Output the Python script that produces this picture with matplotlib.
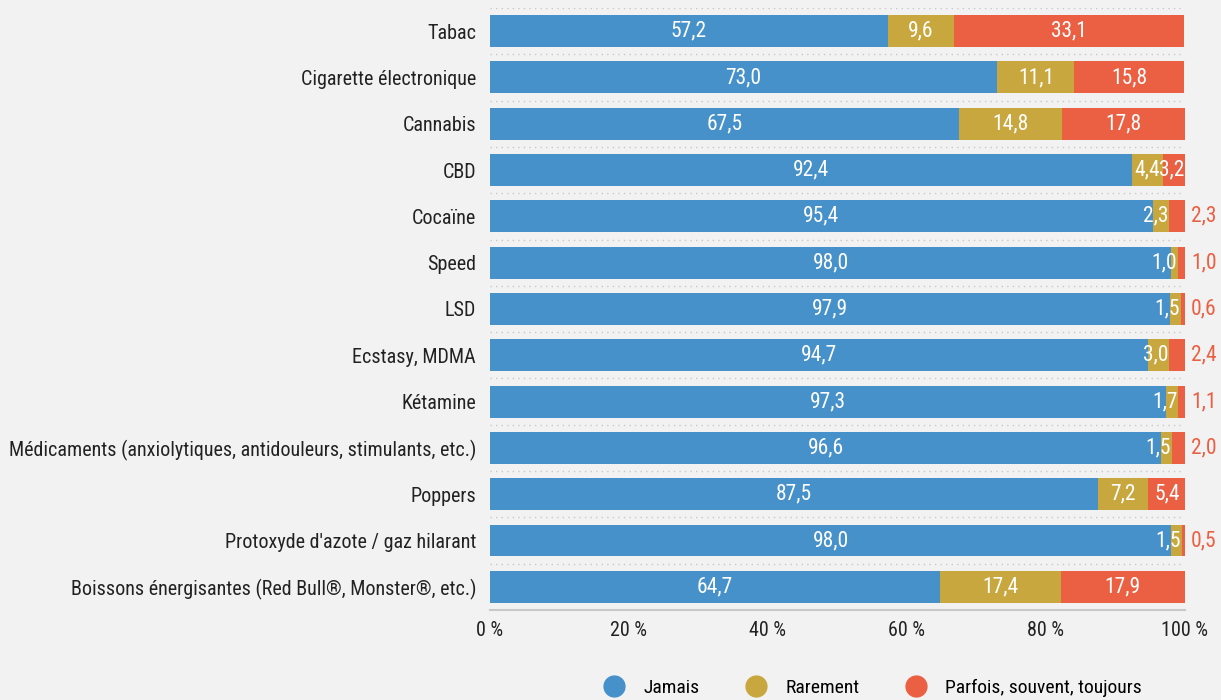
import matplotlib.pyplot as plt
from matplotlib.lines import Line2D
from matplotlib import font_manager

categories = ["Tabac", "Cigarette électronique", "Cannabis", "CBD", "Cocaïne", "Speed", "LSD",
              "Ecstasy, MDMA", "Kétamine",
              "Médicaments (anxiolytiques, antidouleurs, stimulants, etc.)", "Poppers",
              "Protoxyde d'azote / gaz hilarant",
              "Boissons énergisantes (Red Bull®, Monster®, etc.)"]
jamais = [57.2, 73.0, 67.5, 92.4, 95.4, 98.0, 97.9, 94.7, 97.3, 96.6, 87.5, 98.0, 64.7]
rarement = [9.6, 11.1, 14.8, 4.4, 2.3, 1.0, 1.5, 3.0, 1.7, 1.5, 7.2, 1.5, 17.4]
parfois = [33.1, 15.8, 17.8, 3.2, 2.3, 1.0, 0.6, 2.4, 1.1, 2.0, 5.4, 0.5, 17.9]
series_names = ["Jamais", "Rarement", "Parfois, souvent, toujours"]
colors = ["#4691c9", "#c9a73f", "#eb5f43"]

names = {f.name for f in font_manager.fontManager.ttflist}
fam = [f for f in ["Roboto Condensed", "Liberation Sans Narrow", "DejaVu Sans Condensed"] if f in names]
plt.rcParams['font.family'] = fam + ["DejaVu Sans"]

fig = plt.figure(figsize=(12.21, 7), dpi=100, facecolor="#f2f2f2")
ax = fig.add_axes([0.4013, 0.1286, 0.5692, 0.86])
ax.set_facecolor("#f2f2f2")

def fmt(v):
    return f"{v:.1f}".replace(".", ",")

y = list(range(len(categories)))
left = [0] * len(categories)
for k, vals in enumerate([jamais, rarement, parfois]):
    ax.barh(y, vals, left=left, height=0.69, color=colors[k], zorder=2)
    for i, v in enumerate(vals):
        if k == 2 and v < 3:
            # too small: label outside the bar, in the series colour
            ax.text(100.9, i, fmt(v), ha="left", va="center", color=colors[2], fontsize=15.5)
        elif v < 4:
            ax.text(left[i] + v - 0.1, i, fmt(v), ha="right", va="center", color="white", fontsize=15.5)
        else:
            ax.text(left[i] + v / 2, i, fmt(v), ha="center", va="center", color="white", fontsize=15.5)
    left = [a + b for a, b in zip(left, vals)]

for g in [i - 0.5 for i in range(len(categories))]:
    ax.axhline(g, color="#c8c8c8", lw=1, ls=(0, (1, 3)), zorder=1)

ax.set_ylim(len(categories) - 0.5, -0.5)
ax.set_xlim(0, 100)
ax.set_yticks(y)
ax.set_yticklabels(categories, fontsize=14.5, color="#222222")
ax.set_xticks([0, 20, 40, 60, 80, 100])
ax.set_xticklabels(["0 %", "20 %", "40 %", "60 %", "80 %", "100 %"], fontsize=14.5, color="#222222")
ax.tick_params(length=0, pad=10)
ax.tick_params(axis="x", pad=8)
for s in ["top", "right", "left"]:
    ax.spines[s].set_visible(False)
ax.spines["bottom"].set_color("#c8c8c8")
ax.spines["bottom"].set_linewidth(1.5)

handles = [Line2D([], [], marker="o", ls="", markersize=15, color=c) for c in colors]
fig.legend(handles, series_names, loc="center", bbox_to_anchor=(0.711, 0.017), ncol=3,
           frameon=False, fontsize=14, handletextpad=0.5, columnspacing=1.9)

fig.savefig("out.png", dpi=100, facecolor=fig.get_facecolor())
